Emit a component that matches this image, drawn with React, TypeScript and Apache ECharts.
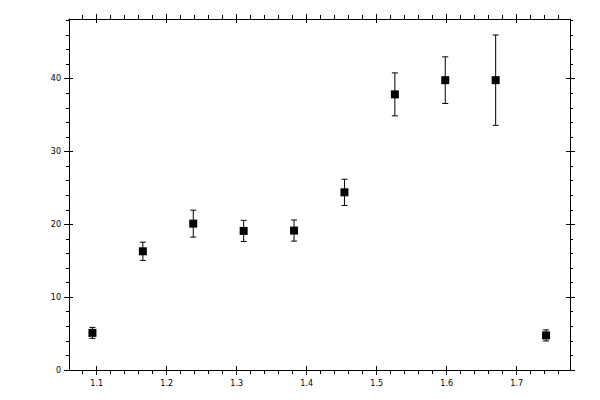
import React, { useEffect, useRef } from 'react';
import * as echarts from 'echarts';

// measured points: position, value and symmetric error
const xValues = [1.094, 1.166, 1.238, 1.31, 1.382, 1.454, 1.526, 1.598, 1.67, 1.742];
const yValues = [5.1, 16.3, 20.1, 19.1, 19.15, 24.4, 37.85, 39.8, 39.8, 4.75];
const yErrors = [0.75, 1.25, 1.85, 1.45, 1.45, 1.8, 2.95, 3.2, 6.2, 0.76];

const xTicks = [1.1, 1.2, 1.3, 1.4, 1.5, 1.6, 1.7];
const yTicks = [0, 10, 20, 30, 40];

const X_MIN = 1.0605;
const X_MAX = 1.7762;
const Y_MIN = 0;
const Y_MAX = 48.2;

const xMinorTicks = Array.from({length: 35}, (_, i) => +(1.08 + i * 0.02).toFixed(2)).filter(
    v => !xTicks.includes(v)
);
const yMinorTicks = Array.from({length: 24}, (_, i) => (i + 1) * 2).filter(v => !yTicks.includes(v));

const FONT = 'DejaVu Sans';
const BLACK = '#000';

// one layer of a frame side: a set of ticks, drawn outward or inward
const frameAxis = (
    position: string,
    range: [number, number],
    ticks: number[],
    length: number,
    inside: boolean,
    withLine: boolean,
    withLabels: boolean
) => ({
    type: 'value',
    position,
    min: range[0],
    max: range[1],
    splitLine: {show: false},
    axisLine: {show: withLine, onZero: false, lineStyle: {color: BLACK, width: 1}},
    axisTick: {show: true, inside, length, customValues: ticks, lineStyle: {color: BLACK, width: 1}},
    minorTick: {show: false},
    axisLabel: {
        show: withLabels,
        customValues: ticks,
        margin: position === 'bottom' ? 9 : 8,
        color: BLACK,
        fontSize: 8,
        fontFamily: FONT
    }
});

const xSide = (position: string, labels: boolean) => [
    frameAxis(position, [X_MIN, X_MAX], xTicks, 5, false, true, labels),
    frameAxis(position, [X_MIN, X_MAX], xMinorTicks, 4, false, false, false),
    frameAxis(position, [X_MIN, X_MAX], xTicks, 4, true, false, false)
];

const ySide = (position: string, labels: boolean) => [
    frameAxis(position, [Y_MIN, Y_MAX], yTicks, 5, false, true, labels),
    frameAxis(position, [Y_MIN, Y_MAX], yMinorTicks, 3, false, false, false),
    frameAxis(position, [Y_MIN, Y_MAX], yTicks, 4, true, false, false)
];

const App = () => {
    const ref = useRef<HTMLDivElement>(null);

    useEffect(() => {
        const chart = echarts.init(ref.current as HTMLDivElement, null, {renderer: 'svg'});
        chart.setOption({
            animation: false,
            backgroundColor: '#fff',
            grid: {left: 69, right: 30, top: 19, bottom: 30, containLabel: false},
            xAxis: [...xSide('bottom', true), ...xSide('top', false)],
            yAxis: [...ySide('left', true), ...ySide('right', false)],
            series: [
                {
                    type: 'custom',
                    xAxisIndex: 0,
                    yAxisIndex: 0,
                    z: 2,
                    encode: {x: 0, y: [1, 2]},
                    data: xValues.map((x, i) => [x, yValues[i] - yErrors[i], yValues[i] + yErrors[i]]),
                    renderItem: (params: any, api: any) => {
                        const x = api.value(0);
                        const top = api.coord([x, api.value(2)]);
                        const bot = api.coord([x, api.value(1)]);
                        const cap = 3;
                        const style = {stroke: BLACK, lineWidth: 1};
                        return {
                            type: 'group',
                            children: [
                                {type: 'line', shape: {x1: top[0], y1: top[1], x2: bot[0], y2: bot[1]}, style},
                                {type: 'line', shape: {x1: top[0] - cap, y1: top[1], x2: top[0] + cap, y2: top[1]}, style},
                                {type: 'line', shape: {x1: bot[0] - cap, y1: bot[1], x2: bot[0] + cap, y2: bot[1]}, style}
                            ]
                        };
                    }
                },
                {
                    type: 'scatter',
                    xAxisIndex: 0,
                    yAxisIndex: 0,
                    z: 3,
                    symbol: 'rect',
                    symbolSize: 8,
                    itemStyle: {color: BLACK, opacity: 1},
                    data: xValues.map((x, i) => [x, yValues[i]])
                }
            ]
        });
        return () => chart.dispose();
    }, []);

    return <div ref={ref} style={{position: 'absolute', left: 0, top: 0, width: 600, height: 400}} />;
};

export default App;
